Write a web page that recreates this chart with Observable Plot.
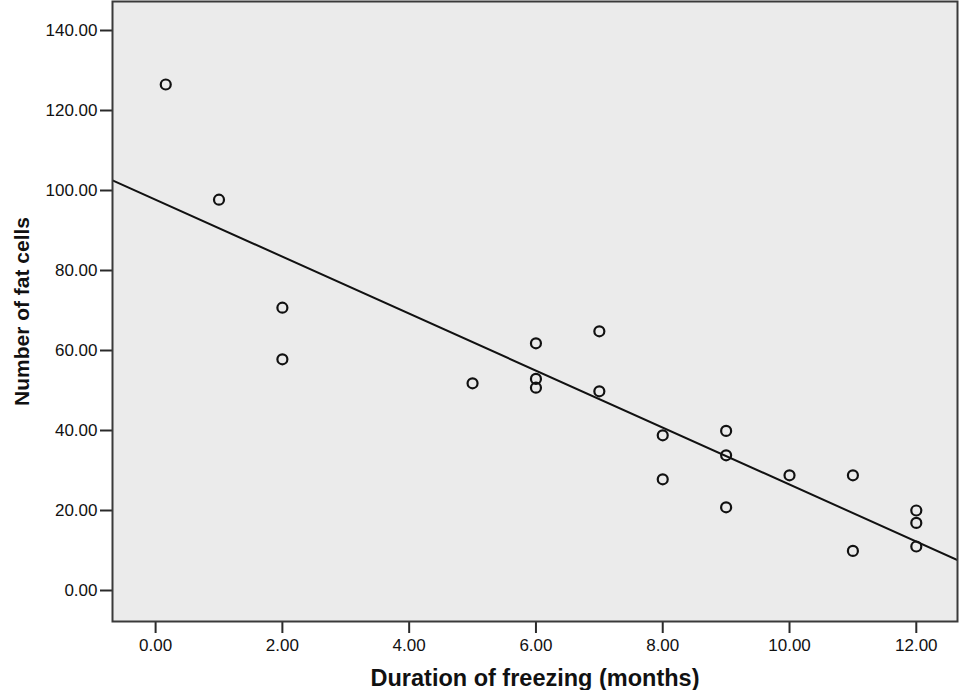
<!DOCTYPE html>
<html>
<head>
<meta charset="utf-8">
<script src="https://cdn.jsdelivr.net/npm/d3@7"></script>
<script src="https://cdn.jsdelivr.net/npm/@observablehq/plot@0.6"></script>
<style>
  html, body { margin: 0; padding: 0; background: #ffffff; }
  #chart svg { display: block; }
</style>
</head>
<body>
<div id="chart"></div>
<script>
// Data
const months = [0.16, 1, 2, 2, 5, 6, 6, 6, 7, 7, 8, 8, 9, 9, 9, 10, 11, 11, 12, 12, 12];
const fatCells = [126.5, 97.7, 70.7, 57.8, 51.8, 61.8, 52.9, 50.7, 64.8, 49.8, 38.8, 27.8, 39.9, 33.8, 20.8, 28.8, 28.8, 9.9, 20, 16.9, 11];
const xTicks = [0, 2, 4, 6, 8, 10, 12];
const yTicks = [0, 20, 40, 60, 80, 100, 120, 140];
const xDomain = [-0.68, 12.65];
const yDomain = [-7.75, 147.25];
const xTitle = "Duration of freezing (months)";
const yTitle = "Number of fat cells";

const points = months.map((m, i) => ({x: m, y: fatCells[i]}));

// Least-squares fit line, drawn across the full x domain
const mx = d3.mean(months), my = d3.mean(fatCells);
const sxy = d3.sum(points, d => (d.x - mx) * (d.y - my));
const sxx = d3.sum(points, d => (d.x - mx) ** 2);
const slope = sxy / sxx;
const intercept = my - slope * mx;
const fit = xDomain.map(x => ({x, y: intercept + slope * x}));

const fmt = d => d.toFixed(2);

const chart = Plot.plot({
  width: 959,
  height: 690,
  marginLeft: 112,
  marginRight: 2,
  marginTop: 1,
  marginBottom: 69,
  style: {fontFamily: "'Liberation Sans', Arial, sans-serif", fontSize: "17px", color: "#111", background: "#ffffff"},
  x: {domain: xDomain},
  y: {domain: yDomain},
  marks: [
    Plot.frame({fill: "#ebebeb", stroke: null}),
    Plot.axisX({ticks: xTicks, tickFormat: fmt, tickSize: 12, tickPadding: 5, strokeWidth: 2, stroke: "#2a2a2a", fill: "#111", label: null, fontSize: 17}),
    Plot.axisY({ticks: yTicks, tickFormat: fmt, tickSize: 12, tickPadding: 3, strokeWidth: 2, stroke: "#2a2a2a", fill: "#111", label: null, fontSize: 17}),
    Plot.line(fit, {x: "x", y: "y", stroke: "#111", strokeWidth: 2, clip: true}),
    Plot.dot(points, {x: "x", y: "y", r: 5, stroke: "#111", strokeWidth: 2.2, fill: "none"}),
    Plot.frame({stroke: "#3a3a3a", strokeWidth: 2}),
    Plot.text([xTitle], {frameAnchor: "bottom", dy: 64, lineAnchor: "bottom", textAnchor: "middle", text: d => d, fontSize: 23.5, fontWeight: "bold", fill: "#111"}),
    Plot.text([yTitle], {frameAnchor: "left", dx: -84, rotate: -90, lineAnchor: "bottom", textAnchor: "middle", text: d => d, fontSize: 21, fontWeight: "bold", fill: "#111"})
  ]
});
document.getElementById("chart").appendChild(chart);
</script>
</body>
</html>
